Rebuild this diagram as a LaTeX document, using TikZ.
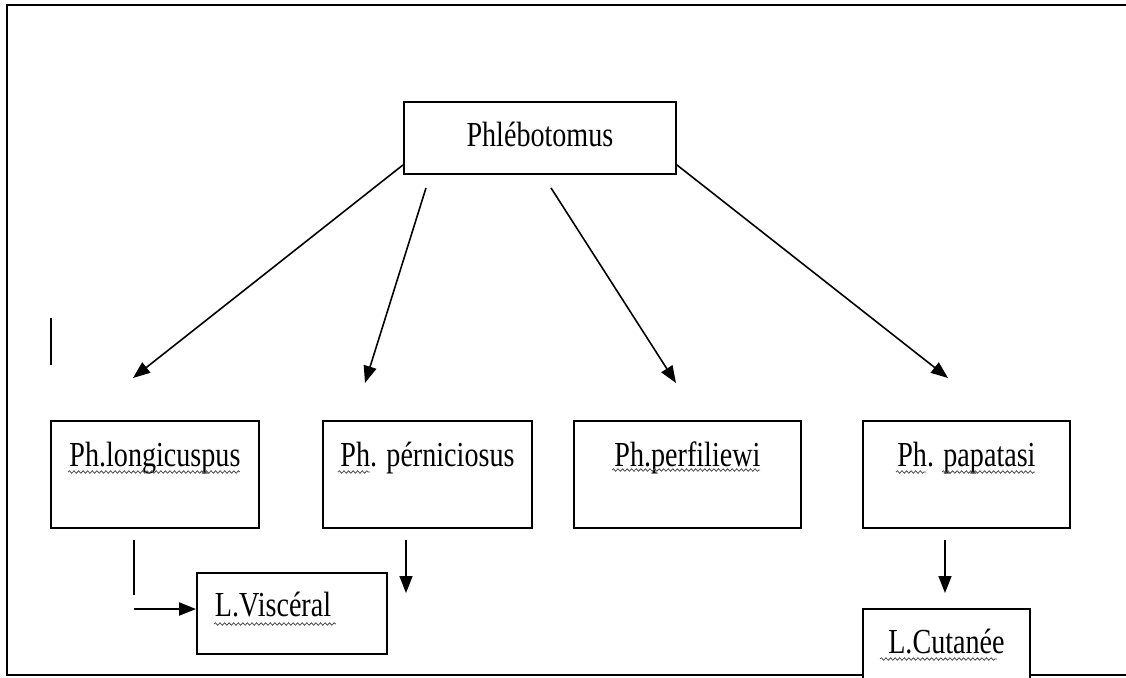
\documentclass[tikz,border=0pt]{standalone}
\usepackage{fontspec}
\setmainfont{Liberation Serif}[FakeStretch=0.8]
\usetikzlibrary{arrows.meta,calc,decorations.pathmorphing}

\tikzset{
  box/.style={draw, line width=1.1pt, inner sep=0pt, anchor=north west,
    font=\fontsize{20}{22}\selectfont},
  arr/.style={line width=0.9pt, -{Triangle[length=0.34cm,width=0.26cm]}},
  squig/.style={gray!60!black, line width=0.45pt, decorate,
    decoration={snake, amplitude=0.7pt, segment length=2.6pt}}
}

\begin{document}
\begin{tikzpicture}[x=0.02cm, y=-0.02cm]
  \clip (0,0) rectangle (1126,677);

  % frame (open on the right, broken under L.Cutanee)
  \draw[line width=0.9pt] (1126,5) -- (7,5) -- (7,675) -- (862,675);
  \draw[line width=0.9pt] (1029,675) -- (1126,675);
  \draw[line width=1.3pt] (51,318) -- (51,365);

  % genus
  \node[box, minimum width=5.44cm, text height=0.9cm, text depth=0.54cm]
    (phle) at (403,101) {Phlébotomus};

  % species
  \node[box, minimum width=4.16cm, text height=0.92cm, text depth=1.22cm]
    (lon) at (50,420) {Ph.longicuspus};
  \node[box, minimum width=4.18cm, text height=0.92cm, text depth=1.22cm]
    (per) at (322,420) {Ph. pérniciosus};
  \node[box, minimum width=4.54cm, text height=0.92cm, text depth=1.22cm]
    (pfl) at (573,420) {Ph.perfiliewi};
  \node[box, minimum width=4.14cm, text height=0.92cm, text depth=1.22cm]
    (pap) at (862,420) {Ph. papatasi};

  % leishmanioses
  \node[box, inner xsep=0.36cm, text width=3.08cm, align=left,
    text height=0.88cm, text depth=0.74cm] (vis) at (196,572) {L.Viscéral};
  \node[box, minimum width=3.34cm, text height=0.9cm, text depth=1.2cm]
    (cut) at (862,608) {L.Cutanée};

  % arrow ends
  \coordinate (t1) at (133,378);
  \coordinate (t2) at (365,383);
  \coordinate (t3) at (676,383);
  \coordinate (t4) at (948,378);
  \draw[arr] ([yshift=0.2cm]phle.south west) -- (t1);
  \draw[arr] ($(phle.south west)+(23,13)$) -- (t2);
  \draw[arr] ($(phle.south west)+(148,13)$) -- (t3);
  \draw[arr] ([yshift=0.2cm]phle.south east) -- (t4);

  \coordinate (lonA) at (134,540);
  \coordinate (lonB) at (134,595);
  \coordinate (lonC) at (134,609);
  \coordinate (perA) at (406,540);
  \coordinate (perB) at (406,593);
  \coordinate (papA) at (945,540);
  \coordinate (papB) at (945,593);
  \draw[line width=0.9pt] (lonA) -- (lonB);
  \draw[arr, line width=1.3pt] (lonC) -- (lonC -| vis.west);
  \draw[arr] (perA) -- (perB);
  \draw[arr] (papA) -- (papB);

  % spelling marks
  \draw[squig] (68,472) -- (240,472);
  \draw[squig] (338,472) -- (370,472);
  \draw[squig] (612,470) -- (760,470);
  \draw[squig] (896,472) -- (926,472);
  \draw[squig] (942,472) -- (1035,472);
  \draw[squig] (214,624) -- (336,624);
  \draw[squig] (880,659) -- (997,659);
\end{tikzpicture}
\end{document}
